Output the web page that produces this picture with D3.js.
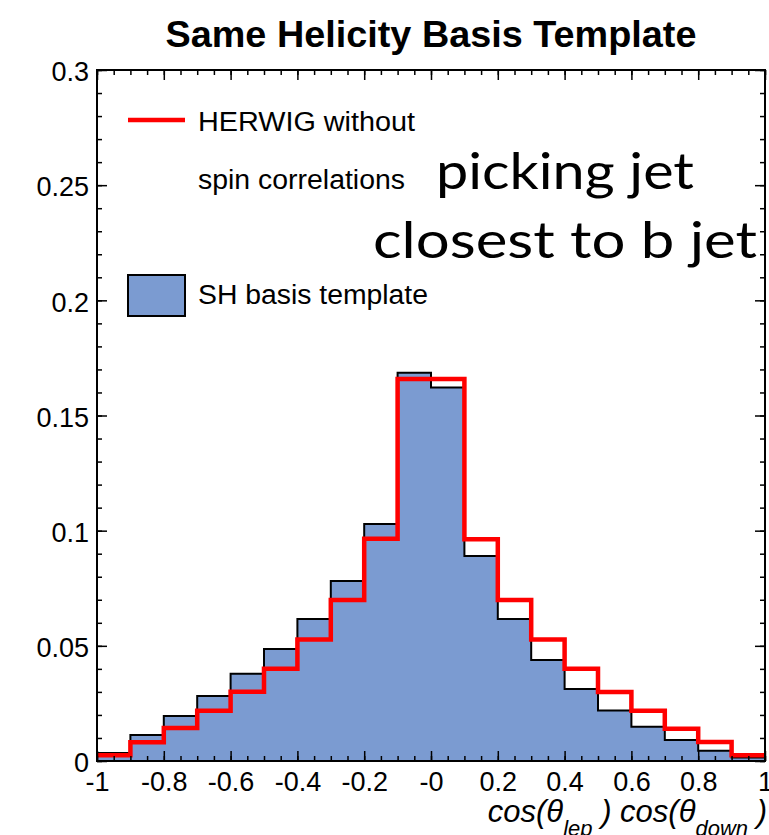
<!DOCTYPE html>
<html>
<head>
<meta charset="utf-8">
<script src="https://cdn.jsdelivr.net/npm/d3@7"></script>
<style>
  html, body { margin: 0; padding: 0; background: #fff; }
  svg { display: block; }
</style>
</head>
<body>
<svg id="chart" width="769" height="835"></svg>
<script>
// ---- data ----
const binStarts = [-1, -0.9, -0.8, -0.7, -0.6, -0.5, -0.4, -0.3, -0.2, -0.1,
                   0, 0.1, 0.2, 0.3, 0.4, 0.5, 0.6, 0.7, 0.8, 0.9];
const binWidth = 0.1;
const templateValues = [0.0035, 0.0113, 0.0195, 0.0282, 0.0379, 0.0486, 0.0617, 0.0782, 0.1029, 0.1686,
                        0.1622, 0.0890, 0.0617, 0.0439, 0.0313, 0.0219, 0.0149, 0.0091, 0.0045, 0.0015];
const herwigValues   = [0.0025, 0.0081, 0.0143, 0.0218, 0.0301, 0.0401, 0.0528, 0.0699, 0.0965, 0.1659,
                        0.1659, 0.0963, 0.0699, 0.0528, 0.0401, 0.0300, 0.0218, 0.0140, 0.0082, 0.0025];
const xTickValues = [-1, -0.8, -0.6, -0.4, -0.2, 0, 0.2, 0.4, 0.6, 0.8, 1];
const xTickLabels = ["-1", "-0.8", "-0.6", "-0.4", "-0.2", "-0", "0.2", "0.4", "0.6", "0.8", "1"];
const yTickValues = [0, 0.05, 0.1, 0.15, 0.2, 0.25, 0.3];
const yTickLabels = ["0", "0.05", "0.1", "0.15", "0.2", "0.25", "0.3"];

// ---- layout ----
const L = 97, R = 765, T = 70, B = 761;
const svg = d3.select("#chart");
const x = d3.scaleLinear().domain([-1, 1]).range([L, R]);
const y = d3.scaleLinear().domain([0, 0.3]).range([B, T]);
const FONT = "'Liberation Sans', Arial, Helvetica, sans-serif";

// title
svg.append("text")
  .attr("x", 431).attr("y", 47)
  .attr("text-anchor", "middle")
  .attr("font-family", FONT).attr("font-weight", "bold")
  .attr("font-size", 37.5)
  .attr("textLength", 531).attr("lengthAdjust", "spacingAndGlyphs")
  .text("Same Helicity Basis Template");

// step points from bins
function steps(vals) {
  const pts = [];
  binStarts.forEach((s, i) => {
    pts.push([s, vals[i]]);
    pts.push([s + binWidth, vals[i]]);
  });
  return pts;
}
const tPts = steps(templateValues);
const hPts = steps(herwigValues);

// template fill
svg.append("path")
  .datum(tPts)
  .attr("fill", "#7b9bd1")
  .attr("d", d3.area().x(d => x(d[0])).y0(y(0)).y1(d => y(d[1])));

// template outline
svg.append("path")
  .datum(tPts)
  .attr("fill", "none").attr("stroke", "#000").attr("stroke-width", 2)
  .attr("d", d3.line().x(d => x(d[0])).y(d => y(d[1])));

// herwig line
svg.append("path")
  .datum(hPts)
  .attr("fill", "none").attr("stroke", "#ff0000").attr("stroke-width", 4.5)
  .attr("stroke-linejoin", "miter")
  .attr("d", d3.line().x(d => x(d[0])).y(d => y(d[1])));

// ---- axes ----
const xMinor = d3.range(-1, 1.0001, 0.05).map(v => +v.toFixed(2));
const yMinor = d3.range(0, 0.3001, 0.01).map(v => +v.toFixed(2));

function styleAxis(g) {
  g.select(".domain").remove();
  g.selectAll(".tick line").attr("stroke", "#000").attr("stroke-width", 1.5);
  g.selectAll(".tick text").attr("font-family", FONT).attr("font-size", 27).attr("fill", "#000");
}

// bottom
svg.append("g").attr("transform", `translate(0,${B})`)
  .call(d3.axisBottom(x).tickValues(xMinor).tickSize(-5).tickFormat(""))
  .call(styleAxis);
svg.append("g").attr("transform", `translate(0,${B})`)
  .call(d3.axisBottom(x).tickValues(xTickValues).tickSize(-10).tickPadding(11)
        .tickFormat((d, i) => xTickLabels[i]))
  .call(styleAxis);
// top
svg.append("g").attr("transform", `translate(0,${T})`)
  .call(d3.axisTop(x).tickValues(xMinor).tickSize(-5).tickFormat(""))
  .call(styleAxis);
svg.append("g").attr("transform", `translate(0,${T})`)
  .call(d3.axisTop(x).tickValues(xTickValues).tickSize(-10).tickFormat(""))
  .call(styleAxis);
// left
svg.append("g").attr("transform", `translate(${L},0)`)
  .call(d3.axisLeft(y).tickValues(yMinor).tickSize(-5).tickFormat(""))
  .call(styleAxis);
const yAx = svg.append("g").attr("transform", `translate(${L},0)`)
  .call(d3.axisLeft(y).tickValues(yTickValues).tickSize(-10).tickPadding(8)
        .tickFormat((d, i) => yTickLabels[i]))
  .call(styleAxis);
yAx.selectAll(".tick text").attr("dy", "0.4em");
// right
svg.append("g").attr("transform", `translate(${R},0)`)
  .call(d3.axisRight(y).tickValues(yMinor).tickSize(-5).tickFormat(""))
  .call(styleAxis);
svg.append("g").attr("transform", `translate(${R},0)`)
  .call(d3.axisRight(y).tickValues(yTickValues).tickSize(-10).tickFormat(""))
  .call(styleAxis);

// frame
svg.append("rect")
  .attr("x", L).attr("y", T).attr("width", R - L).attr("height", B - T)
  .attr("fill", "none").attr("stroke", "#000").attr("stroke-width", 2);

// ---- legend ----
svg.append("line")
  .attr("x1", 128).attr("x2", 185).attr("y1", 120).attr("y2", 120)
  .attr("stroke", "#ff0000").attr("stroke-width", 4.5);
svg.append("text").attr("x", 198).attr("y", 131)
  .attr("font-family", FONT).attr("font-size", 27)
  .attr("textLength", 217).attr("lengthAdjust", "spacingAndGlyphs")
  .text("HERWIG without");
svg.append("text").attr("x", 198).attr("y", 189)
  .attr("font-family", FONT).attr("font-size", 27)
  .attr("textLength", 207).attr("lengthAdjust", "spacingAndGlyphs")
  .text("spin correlations");
svg.append("rect")
  .attr("x", 128).attr("y", 275).attr("width", 57).attr("height", 41)
  .attr("fill", "#7b9bd1").attr("stroke", "#000").attr("stroke-width", 2);
svg.append("text").attr("x", 198).attr("y", 304)
  .attr("font-family", FONT).attr("font-size", 27)
  .attr("textLength", 230).attr("lengthAdjust", "spacingAndGlyphs")
  .text("SH basis template");

// ---- annotation ----
const ANN = "'Gill Sans', 'Lato', 'Open Sans', sans-serif";
svg.append("text").attr("x", 436).attr("y", 189)
  .attr("font-family", ANN).attr("font-size", 51)
  .attr("textLength", 258).attr("lengthAdjust", "spacingAndGlyphs")
  .text("picking jet");
svg.append("text").attr("x", 373).attr("y", 258)
  .attr("font-family", ANN).attr("font-size", 51)
  .attr("textLength", 384).attr("lengthAdjust", "spacingAndGlyphs")
  .text("closest to b jet");

// ---- x axis title ----
const xt = svg.append("text")
  .attr("x", 767).attr("y", 822)
  .attr("text-anchor", "end")
  .attr("font-family", FONT).attr("font-style", "italic")
  .attr("font-size", 31);
xt.append("tspan").text("cos(θ");
xt.append("tspan").attr("font-size", 22).attr("dy", 14).text("lep");
xt.append("tspan").attr("dy", -14).text(" ) cos(θ");
xt.append("tspan").attr("font-size", 22).attr("dy", 14).text("down");
xt.append("tspan").attr("dy", -14).text(" )");
</script>
</body>
</html>
